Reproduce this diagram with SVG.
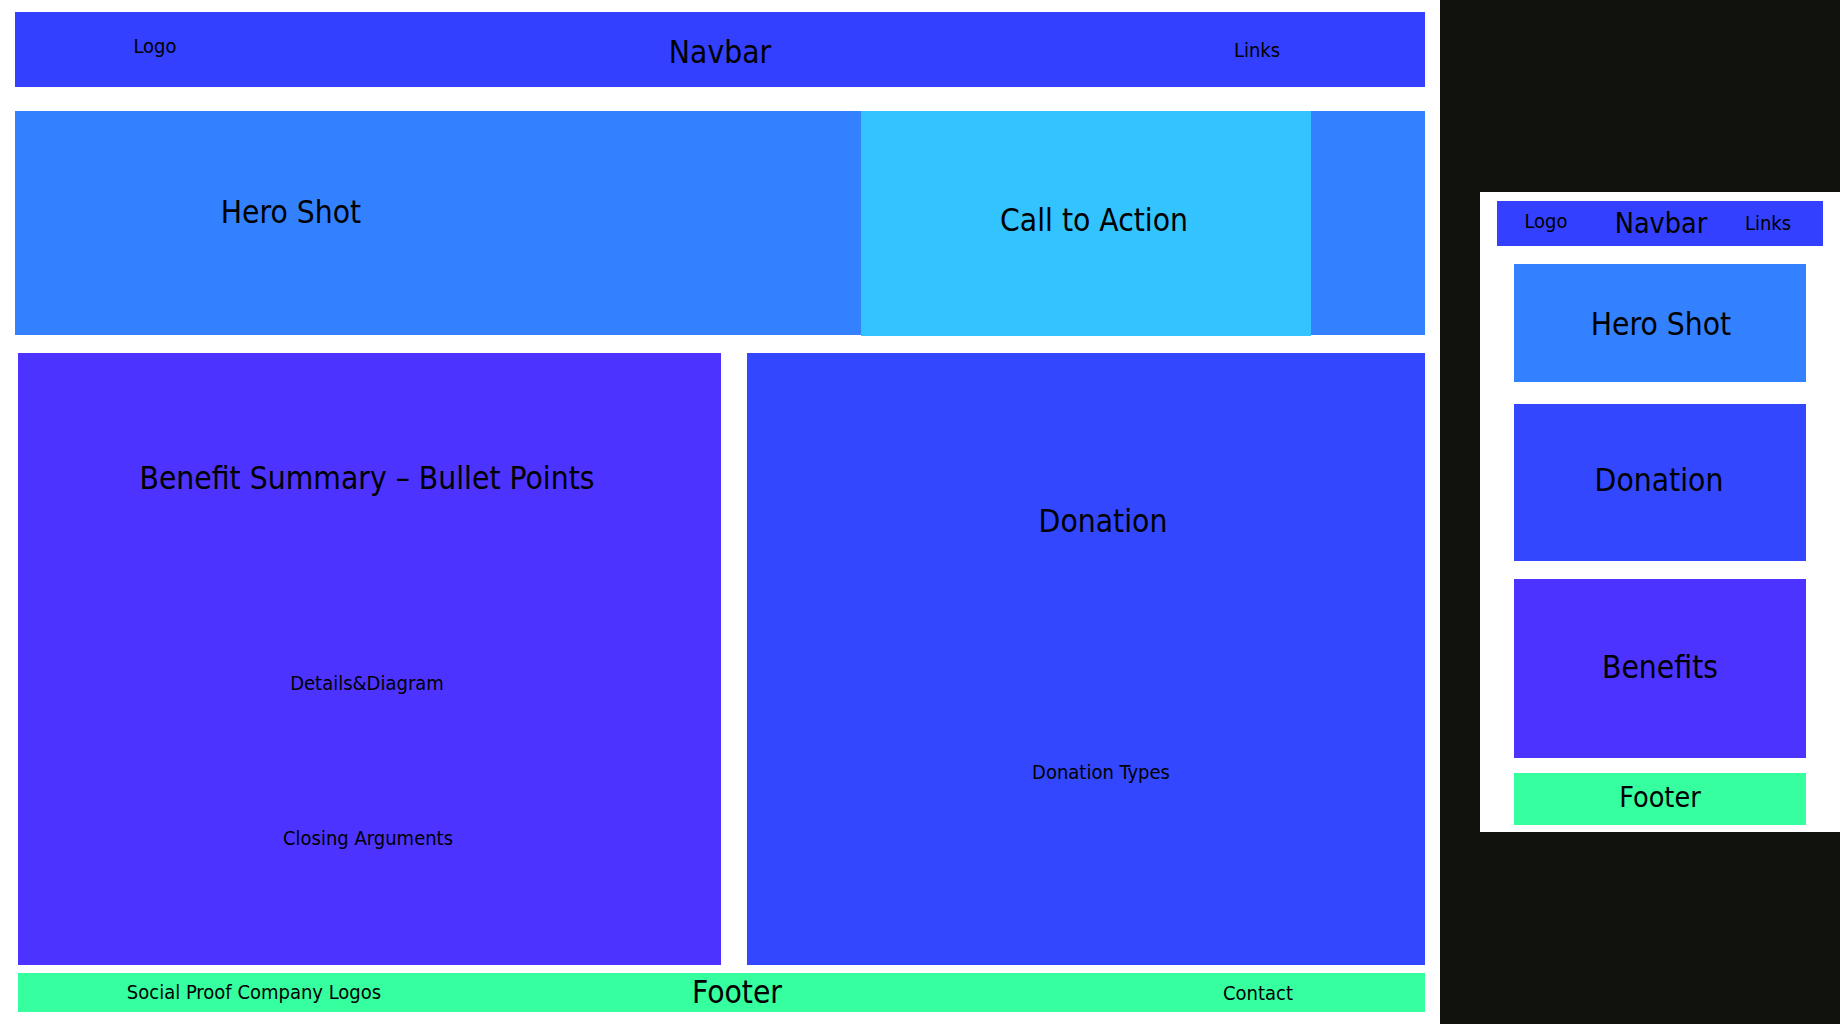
<svg xmlns="http://www.w3.org/2000/svg" width="1840" height="1024" viewBox="0 0 1840 1024">
  <style>
    text { font-family: "DejaVu Sans Condensed", "DejaVu Sans", "Liberation Sans", sans-serif; fill: #000; text-anchor: middle; }
    .s { font-size: 20px; }
    .m { font-size: 28.5px; }
    .l { font-size: 31.5px; }
    .nav { fill: #3340ff; }
    .hero { fill: #3381ff; }
    .cta { fill: #33c3ff; }
    .ben { fill: #4d33ff; }
    .don { fill: #3347ff; }
    .foot { fill: #36ff9f; }
  </style>
  <rect x="0" y="0" width="1840" height="1024" fill="#ffffff"/>
  <rect x="1440" y="0" width="400" height="1024" fill="#11110d"/>
  <rect x="1480" y="192" width="360" height="640" fill="#ffffff"/>

  <g id="navbar">
    <rect class="nav" x="15" y="12" width="1410" height="75"/>
    <text class="s" x="155" y="53">Logo</text>
    <text class="l" x="720" y="63">Navbar</text>
    <text class="s" x="1257" y="57">Links</text>
  </g>
  <g id="hero">
    <rect class="hero" x="15" y="111" width="1410" height="224"/>
    <text class="l" x="291" y="223">Hero Shot</text>
  </g>
  <g id="cta">
    <rect class="cta" x="861" y="111" width="450" height="225"/>
    <text class="l" x="1094" y="231">Call to Action</text>
  </g>
  <g id="benefits">
    <rect class="ben" x="18" y="353" width="703" height="612"/>
    <text class="l" x="367" y="489">Benefit Summary – Bullet Points</text>
    <text class="s" x="367" y="690">Details&amp;Diagram</text>
    <text class="s" x="368" y="845">Closing Arguments</text>
  </g>
  <g id="donation">
    <rect class="don" x="747" y="353" width="678" height="612"/>
    <text class="l" x="1103" y="532">Donation</text>
    <text class="s" x="1101" y="779">Donation Types</text>
  </g>
  <g id="footer">
    <rect class="foot" x="18" y="973" width="1407" height="39"/>
    <text class="s" x="254" y="999">Social Proof Company Logos</text>
    <text class="l" x="737" y="1003">Footer</text>
    <text class="s" x="1258" y="1000">Contact</text>
  </g>

  <g id="mobile-navbar">
    <rect class="nav" x="1497" y="201" width="326" height="45"/>
    <text class="s" x="1546" y="228">Logo</text>
    <text class="m" x="1661" y="233">Navbar</text>
    <text class="s" x="1768" y="230">Links</text>
  </g>
  <g id="mobile-hero">
    <rect class="hero" x="1514" y="264" width="292" height="118"/>
    <text class="l" x="1661" y="335">Hero Shot</text>
  </g>
  <g id="mobile-donation">
    <rect class="don" x="1514" y="404" width="292" height="157"/>
    <text class="l" x="1659" y="491">Donation</text>
  </g>
  <g id="mobile-benefits">
    <rect class="ben" x="1514" y="579" width="292" height="179"/>
    <text class="l" x="1660" y="678">Benefits</text>
  </g>
  <g id="mobile-footer">
    <rect class="foot" x="1514" y="773" width="292" height="52"/>
    <text class="m" x="1660" y="807">Footer</text>
  </g>
  <g id="connectors"/>
</svg>
